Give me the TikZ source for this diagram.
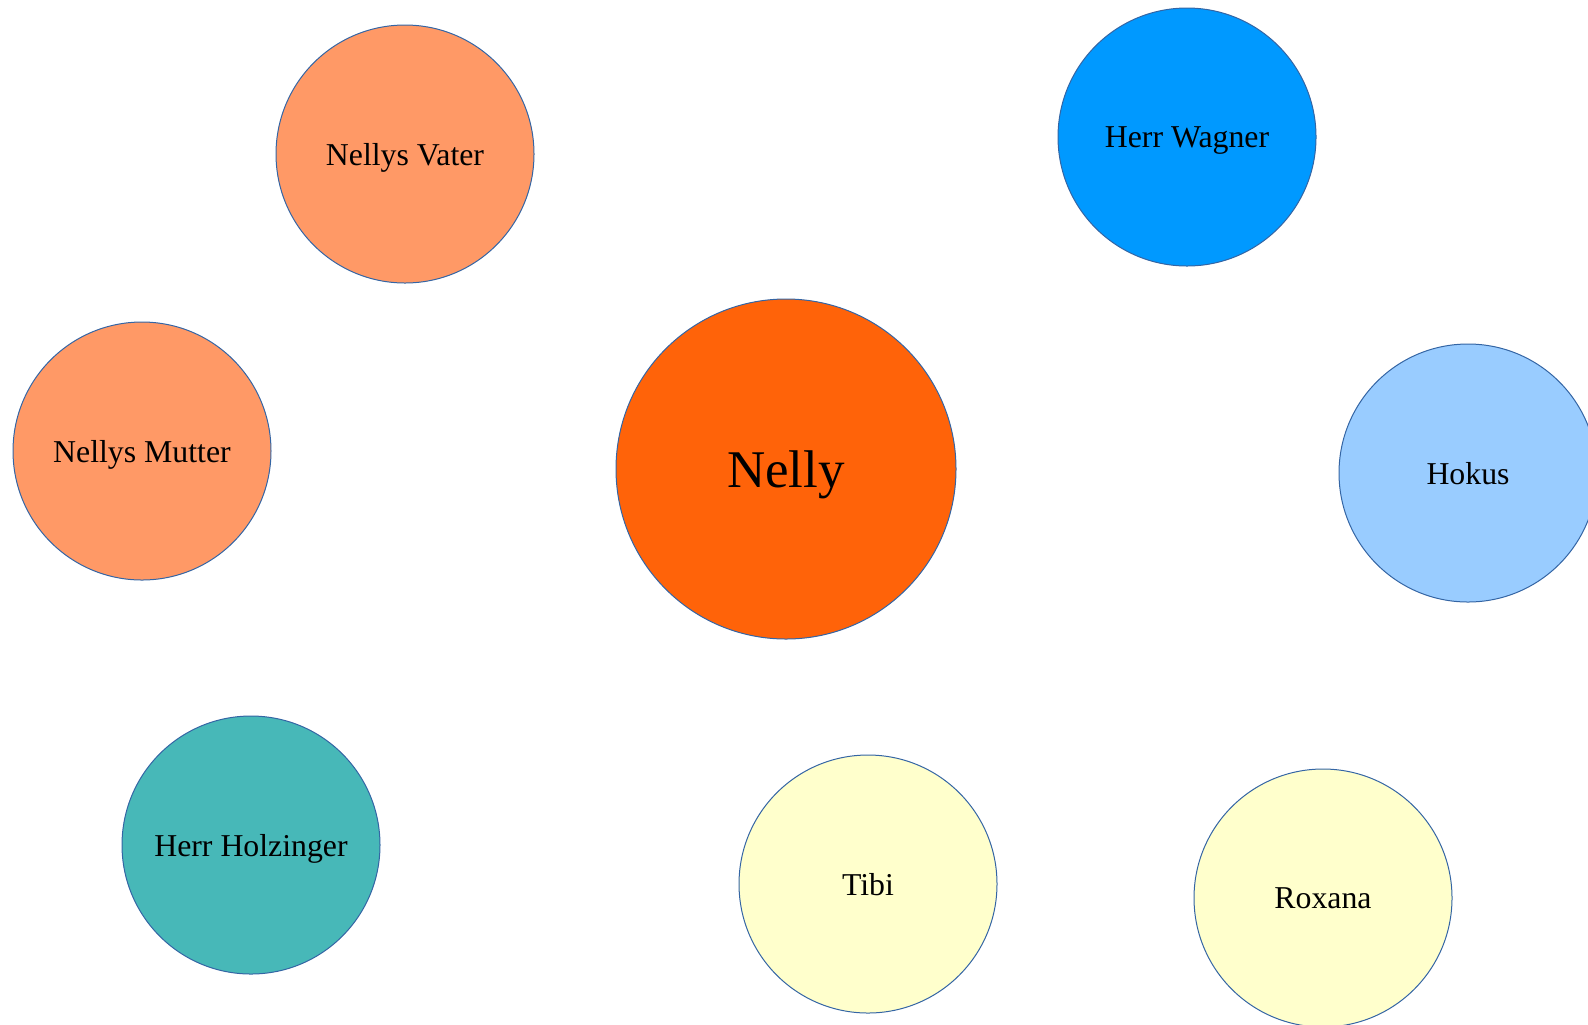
\documentclass[tikz,border=0pt]{standalone}
\usepackage{fontspec}
\setmainfont{Liberation Serif}
\usepackage{xcolor}
\usetikzlibrary{positioning}
\definecolor{rimblue}{HTML}{3465A4}
\definecolor{parentorange}{HTML}{FF9966}
\definecolor{nellyorange}{HTML}{FF6309}
\definecolor{wagnerblue}{HTML}{0099FF}
\definecolor{hokusblue}{HTML}{99CCFF}
\definecolor{holzteal}{HTML}{47B8B8}
\definecolor{friendyellow}{HTML}{FFFFCC}

\begin{document}
\begin{tikzpicture}[x=0.5pt, y=-0.5pt,
    person/.style={circle, draw=rimblue, line width=0.5pt, inner sep=0pt,
                   text depth=0pt, minimum size=129pt,
                   font=\fontsize{15.9}{18}\selectfont}]
    \useasboundingbox (0,0) rectangle (1588,1024);
    \clip (0,0) rectangle (1588,1024);
    \node[person, fill=parentorange] (vater) at (405,154) {Nellys Vater};
    \node[person, fill=wagnerblue] (wagner) at (1187,137) {Herr Wagner};
    \node[person, fill=parentorange] (mutter) at (142,451) {Nellys Mutter};
    \node[person, fill=nellyorange, minimum size=170pt,
          font=\fontsize{26.5}{30}\selectfont] (nelly) at (786,469) {Nelly};
    \node[person, fill=hokusblue] (hokus) at (1468,473) {Hokus};
    \node[person, fill=holzteal] (holzinger) at (251,845) {Herr Holzinger};
    \node[person, fill=friendyellow] (tibi) at (868,884) {Tibi};
    \node[person, fill=friendyellow] (roxana) at (1323,898) {Roxana};
\end{tikzpicture}
\end{document}
